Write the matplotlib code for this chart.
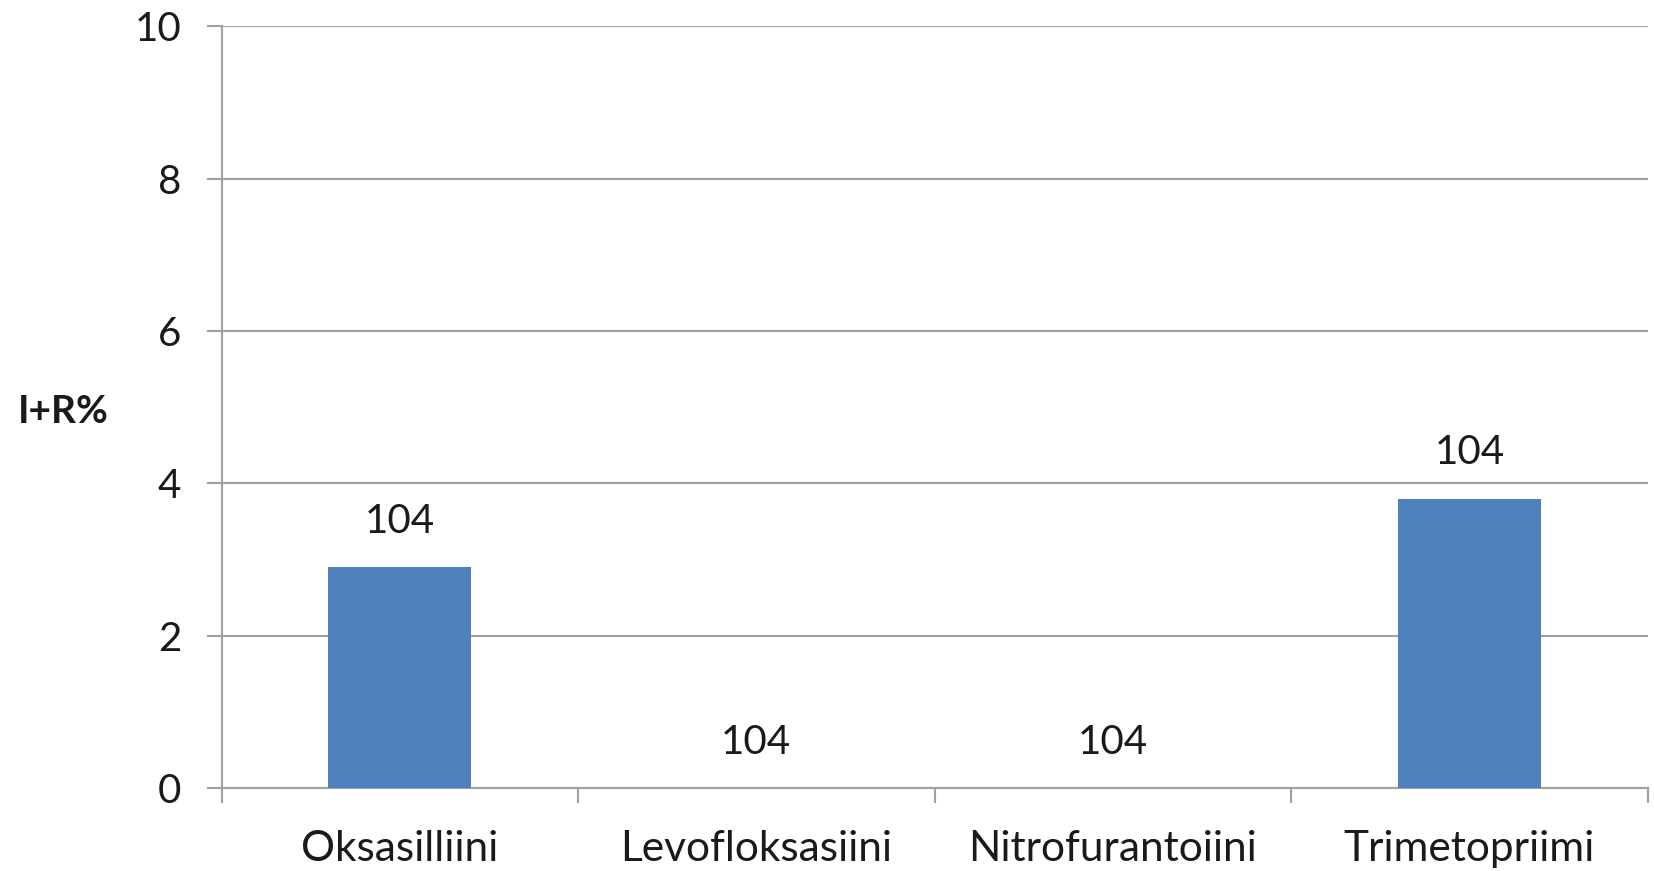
import matplotlib
matplotlib.use("Agg")
import matplotlib.pyplot as plt
from matplotlib.ticker import FixedLocator

categories = ["Oksasilliini", "Levofloksasiini", "Nitrofurantoiini", "Trimetopriimi"]
values = [2.9, 0.0, 0.0, 3.8]
labels = ["104", "104", "104", "104"]
yticks = [0, 2, 4, 6, 8, 10]

plt.rcParams['font.family'] = ['Lato', 'DejaVu Sans']

W, H = 1654, 871
fig = plt.figure(figsize=(W / 100, H / 100), dpi=100)
ax = fig.add_axes([221.5 / W, 1 - 788 / H, (1647.6 - 221.5) / W, (788 - 26.4) / H])

x = list(range(len(categories)))
ax.bar(x, values, width=0.4, color="#4F81BD", zorder=3)

for xi, v, lab in zip(x, values, labels):
    ax.annotate(lab, (xi, v), xytext=(0, 46), textcoords="offset pixels",
                ha="center", va="center", fontsize=29, color="#1a1a1a")

ax.set_xlim(-0.5, len(categories) - 0.5)
ax.set_ylim(0, 10)
ax.set_yticks(yticks)
ax.set_yticklabels([str(t) for t in yticks])
ax.yaxis.grid(True, color="#A0A0A0", linewidth=1.5, zorder=0)
ax.set_axisbelow(True)

ax.set_xticks(x)
ax.set_xticklabels(categories)
ax.xaxis.set_minor_locator(FixedLocator([i - 0.5 for i in range(len(categories) + 1)]))
ax.tick_params(axis="x", which="major", length=0, pad=30, labelsize=30.5, labelcolor="#1a1a1a")
ax.tick_params(axis="x", which="minor", length=11, width=1.5, color="#A0A0A0")
ax.tick_params(axis="y", which="major", length=11, width=1.5, color="#A0A0A0", pad=18,
               labelsize=29, labelcolor="#1a1a1a")

for s in ["top", "right"]:
    ax.spines[s].set_visible(False)
for s in ["left", "bottom"]:
    ax.spines[s].set_color("#A0A0A0")
    ax.spines[s].set_linewidth(1.5)

ax.set_ylabel("I+R%", rotation=0, fontsize=28, fontweight="bold", color="#1a1a1a",
              ha="center", va="center")
ax.yaxis.set_label_coords(63.5 / W, 0.5, transform=fig.transFigure)
ax.yaxis.label.set_position((63.5 / W, 1 - 411 / H))

fig.savefig("out.png", dpi=100, facecolor="white")
